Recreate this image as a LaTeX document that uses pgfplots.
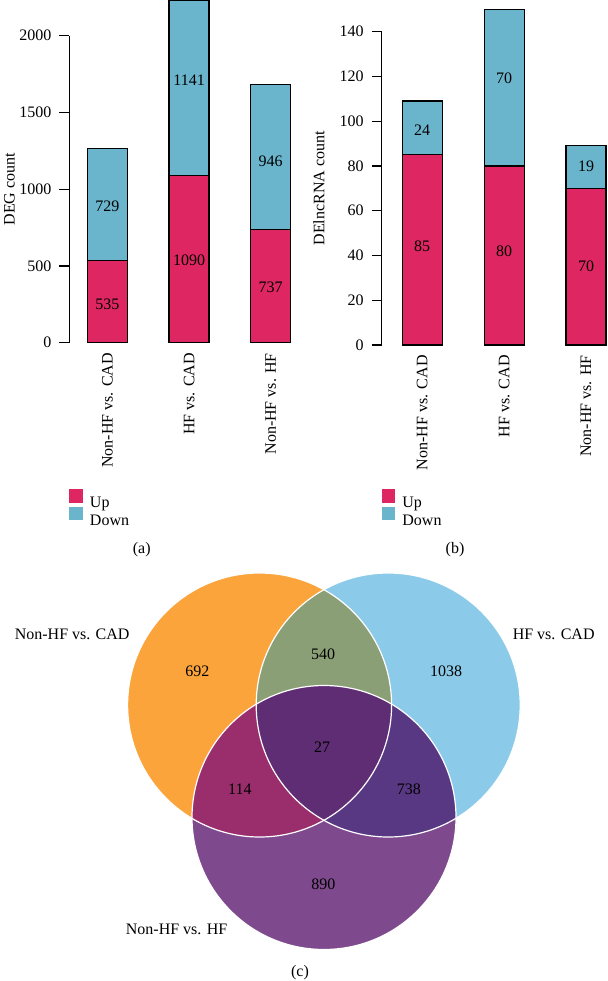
\documentclass[border=0pt]{standalone}
\usepackage{fontspec}
\setmainfont{Liberation Serif}
\usepackage{pgfplots}
\pgfplotsset{compat=1.18}
\definecolor{upc}{HTML}{DD2662}
\definecolor{downc}{HTML}{6BB5CC}
\definecolor{vL}{HTML}{FBA43B}
\definecolor{vR}{HTML}{8BCBE9}
\definecolor{vB}{HTML}{7E4A8D}
\definecolor{vLR}{HTML}{8B9F77}
\definecolor{vLB}{HTML}{9A2D6C}
\definecolor{vRB}{HTML}{583783}
\definecolor{vLRB}{HTML}{5F2D73}
\pgfplotsset{
  mybar/.style n args={2}{
    scale only axis, anchor=south west, clip=false,
    ybar stacked, bar width=20pt,
    axis lines*=left,
    x axis line style={draw=none},
    xtick={1,2,3},
    xticklabels={Non-HF vs. CAD, HF vs. CAD, Non-HF vs. HF},
    xtick style={draw=none},
    xticklabel style={rotate=90, anchor=east, inner sep=0pt},
    tick align=outside, major tick length=5pt,
    yticklabel style={inner sep=0pt, anchor=east},
    yticklabel shift=3.8pt,
    y axis line style={line width=0.6pt, black},
    ytick style={line width=0.6pt, black},
    every axis y label/.style={at={(axis description cs:#1,0.5)}, rotate=90, anchor=center},
    /pgf/number format/assume math mode=true,
    /pgf/number format/1000 sep={},
    legend style={at={(axis description cs:0,#2)}, anchor=north west, draw=none, fill=none,
      inner sep=0pt, outer sep=0pt, row sep=-2pt, column sep=3.65pt,
      nodes={inner sep=0pt, text height=6.5pt, text depth=1.5pt}},
    legend cell align=left,
  },
  lab/.style={scale only axis, anchor=south west, clip=false, hide axis},
  labplot/.style={only marks, mark=none, nodes near coords, point meta=explicit symbolic,
    nodes near coords align={center},
    every node near coord/.style={anchor=center, inner sep=0pt, black}},
  sq/.style={legend image code/.code={\fill[##1,draw=none] (0pt,0pt) rectangle (6.7pt,6.7pt);}},
}
\begin{document}
\begin{tikzpicture}[font=\fontsize{8}{9.6}\selectfont]
\useasboundingbox (0,0) rectangle (303.5pt,-490.5pt);

% (a)
\begin{axis}[mybar={-0.2477}{-0.478},
  at={(34.65pt,-171.35pt)}, width=121.1pt, height=153.5pt,
  xmin=0.532, xmax=3.5, ymin=0, ymax=2000,
  ytick={0,500,1000,1500,2000},
  ylabel={DEG count}]
\addplot[fill=upc, draw=black, line width=0.6pt, sq] coordinates {(1,535) (2,1090) (3,737)};
\addlegendentry{Up}
\addplot[fill=downc, draw=black, line width=0.6pt, sq] coordinates {(1,729) (2,1141) (3,946)};
\addlegendentry{Down}
\end{axis}
\begin{axis}[lab, at={(34.65pt,-171.35pt)}, width=121.1pt, height=153.5pt,
  xmin=0.532, xmax=3.5, ymin=0, ymax=2000]
\addplot[labplot] coordinates {(1,250)[535] (1,892)[729] (2,540)[1090] (2,1710)[1141] (3,362)[737] (3,1180)[946]};
\end{axis}

% (b)
\begin{axis}[mybar={-0.28}{-0.461},
  at={(190.85pt,-172.5pt)}, width=111.98pt, height=156.65pt,
  xmin=0.5055, xmax=3.24, ymin=0, ymax=140,
  ytick={0,20,...,140},
  ylabel={DElncRNA count}]
\addplot[fill=upc, draw=black, line width=0.6pt, sq] coordinates {(1,85) (2,80) (3,70)};
\addlegendentry{Up}
\addplot[fill=downc, draw=black, line width=0.6pt, sq] coordinates {(1,24) (2,70) (3,19)};
\addlegendentry{Down}
\end{axis}
\begin{axis}[lab, at={(190.85pt,-172.5pt)}, width=111.98pt, height=156.65pt,
  xmin=0.5055, xmax=3.24, ymin=0, ymax=140]
\addplot[labplot] coordinates {(1,44)[85] (1,96)[24] (2,42)[80] (2,119)[70] (3,35)[70] (3,80)[19]};
\end{axis}

\node at (70.85pt,-275pt) {(a)};
\node at (227.5pt,-275pt) {(b)};

% (c) Venn
\begin{axis}[scale only axis, anchor=south west, at={(0pt,-490.5pt)},
  width=303.5pt, height=220.5pt, xmin=0, xmax=607, ymin=-981, ymax=-540,
  hide axis, clip=false]
\fill[vL] (axis cs:259.6,-705) circle[radius=66pt];
\fill[vR] (axis cs:388.2,-705) circle[radius=66pt];
\fill[vB] (axis cs:324,-817.5) circle[radius=66pt];
\begin{scope}
\clip (axis cs:259.6,-705) circle[radius=66pt];
\fill[vLR] (axis cs:388.2,-705) circle[radius=66pt];
\fill[vLB] (axis cs:324,-817.5) circle[radius=66pt];
\end{scope}
\begin{scope}
\clip (axis cs:388.2,-705) circle[radius=66pt];
\fill[vRB] (axis cs:324,-817.5) circle[radius=66pt];
\clip (axis cs:259.6,-705) circle[radius=66pt];
\fill[vLRB] (axis cs:324,-817.5) circle[radius=66pt];
\end{scope}
\draw[white, line width=0.6pt] (axis cs:259.6,-705) circle[radius=66pt];
\draw[white, line width=0.6pt] (axis cs:388.2,-705) circle[radius=66pt];
\draw[white, line width=0.6pt] (axis cs:324,-817.5) circle[radius=66pt];
\node at (axis cs:72.2,-634.3) {Non-HF vs. CAD};
\node at (axis cs:553.7,-634.3) {HF vs. CAD};
\node at (axis cs:176.6,-929.3) {Non-HF vs. HF};
\node at (axis cs:197.3,-671) {692};
\node at (axis cs:323,-654) {540};
\node at (axis cs:446,-671) {1038};
\node at (axis cs:322.2,-747.3) {27};
\node at (axis cs:239.8,-789.3) {114};
\node at (axis cs:408.9,-789.3) {738};
\node at (axis cs:323.3,-884.3) {890};
\node at (axis cs:300,-972.7) {(c)};
\end{axis}
\end{tikzpicture}
\end{document}
